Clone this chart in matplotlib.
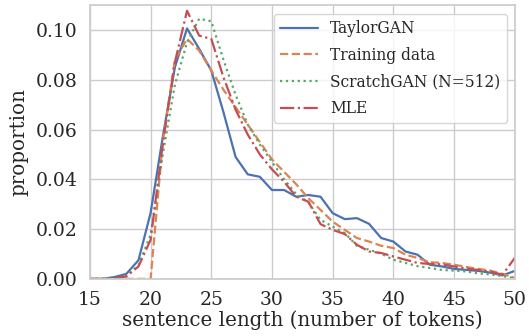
import numpy as np
import matplotlib
matplotlib.use('Agg')
import matplotlib.pyplot as plt
import seaborn as sns

sns.set_theme(style='whitegrid')
plt.rcParams['font.family'] = ['DejaVu Serif']

# sentence length distribution, lengths 15..50
lengths = np.arange(15, 51)
taylorgan = [0, 0, 0.0007, 0.002, 0.0075, 0.0265, 0.057, 0.085, 0.1006, 0.0924,
             0.0837, 0.067, 0.049, 0.042, 0.041, 0.0357, 0.0357, 0.033, 0.0337, 0.033,
             0.0264, 0.024, 0.0244, 0.0221, 0.0164, 0.015, 0.011, 0.0097, 0.0057, 0.005,
             0.004, 0.0036, 0.0032, 0.0025, 0.0014, 0.0032]
training = [0, 0, 0, 0, 0, 0, 0.055, 0.088, 0.0964, 0.0917,
            0.0837, 0.076, 0.069, 0.062, 0.055, 0.048, 0.043, 0.038, 0.0324, 0.0277,
            0.023, 0.0197, 0.0164, 0.015, 0.0133, 0.0124, 0.0097, 0.0084, 0.0067, 0.0064,
            0.0057, 0.0048, 0.004, 0.0033, 0.002, 0.0004]
scratchgan = [0, 0, 0.0002, 0.001, 0.0055, 0.0177, 0.05, 0.078, 0.095, 0.1045,
              0.1035, 0.088, 0.074, 0.062, 0.054, 0.047, 0.04, 0.034, 0.0307, 0.0237,
              0.021, 0.0184, 0.0133, 0.0117, 0.0101, 0.0077, 0.0064, 0.0051, 0.0044, 0.0036,
              0.0033, 0.003, 0.0022, 0.0018, 0.0011, 0.0003]
mle = [0, 0, 0.0002, 0.001, 0.005, 0.0157, 0.054, 0.087, 0.1077, 0.0977,
       0.0964, 0.081, 0.068, 0.058, 0.05, 0.044, 0.039, 0.033, 0.031, 0.022,
       0.0197, 0.018, 0.0137, 0.011, 0.0104, 0.009, 0.0077, 0.0064, 0.006, 0.0058,
       0.005, 0.0041, 0.0036, 0.0029, 0.0017, 0.0084]

pal = sns.color_palette('deep')

fig = plt.figure(figsize=(5.29, 3.36), dpi=100)
ax = fig.add_axes([0.170, 0.170, 0.803, 0.815])

ax.plot(lengths, taylorgan, '-', color=pal[0], lw=1.6, label='TaylorGAN')
ax.plot(lengths, training, '--', color=pal[1], lw=1.6, label='Training data')
ax.plot(lengths, scratchgan, ':', color=pal[2], lw=1.6, label='ScratchGAN (N=512)')
ax.plot(lengths, mle, '-.', color=pal[3], lw=1.6, label='MLE')

ax.set_xlim(15, 50)
ax.set_ylim(0, 0.11)
ax.set_yticks([0, 0.02, 0.04, 0.06, 0.08, 0.10])
ax.set_yticklabels(['0.00', '0.02', '0.04', '0.06', '0.08', '0.10'])
ax.tick_params(labelsize=13.5, pad=3)
ax.set_xlabel('sentence length (number of tokens)', fontsize=14.3, labelpad=1)
ax.set_ylabel('proportion', fontsize=14.3, labelpad=5)
ax.legend(loc='upper right', bbox_to_anchor=(0.981, 0.967), borderaxespad=0,
          fontsize=11.2, handlelength=2.4, labelspacing=0.62)

fig.savefig('out.png', dpi=100)
